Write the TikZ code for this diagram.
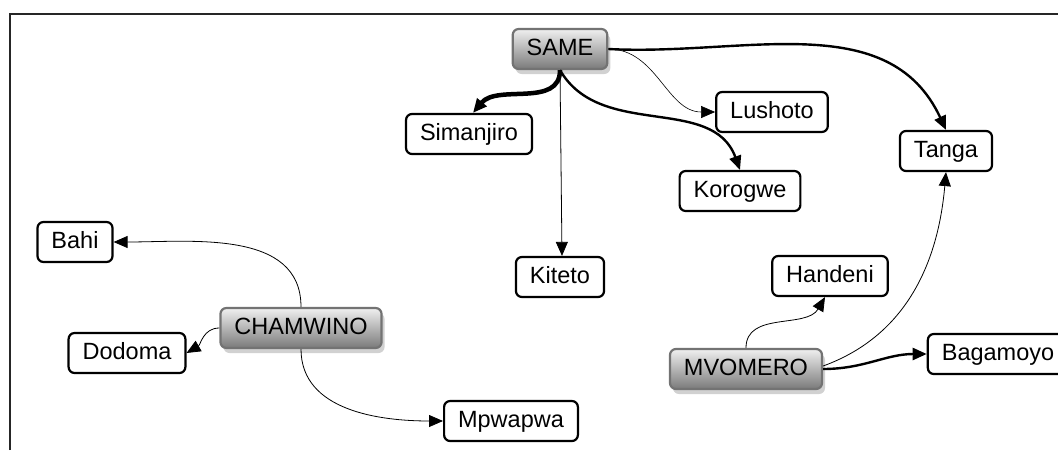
\documentclass[tikz,border=0pt]{standalone}
\usepackage{fontspec}
\setmainfont{Liberation Sans}
\usetikzlibrary{arrows.meta, shadows}

\tikzset{
  town/.style={draw, rounded corners=6pt, line width=2.2pt, fill=white,
    font=\fontsize{23.5}{28}\selectfont, inner xsep=14pt, inner ysep=0pt,
    minimum height=40pt, text height=17pt, text depth=4.5pt},
  hub/.style={town, draw=black!55, top color=black!6, bottom color=black!52,
    drop shadow={shadow xshift=3pt, shadow yshift=-5pt, fill=black!18, opacity=1}},
  route/.style={-{Triangle[length=14pt,width=12pt]}, line width=0.8pt},
  midroute/.style={route, line width=2.4pt},
  heavyroute/.style={route, line width=4.5pt},
}

\begin{document}
\begin{tikzpicture}[x=1pt, y=1pt]
\useasboundingbox (0,0) rectangle (1058,-450);
\draw[line width=2.5pt, black!85] (10,-450) -- (10,-14) -- (1058,-14);

% districts
\node[hub] (same) at (560,-49) {SAME};
\node[town] (simanjiro) at (469,-134) {Simanjiro};
\node[town] (lushoto) at (772,-112) {Lushoto};
\node[town] (tanga) at (946,-151) {Tanga};
\node[town] (korogwe) at (740,-191) {Korogwe};
\node[town] (kiteto) at (560,-277) {Kiteto};
\node[town] (bahi) at (75,-242) {Bahi};
\node[hub] (chamwino) at (301,-328) {CHAMWINO};
\node[town] (dodoma) at (127,-353) {Dodoma};
\node[town] (mpwapwa) at (511,-421) {Mpwapwa};
\node[town] (handeni) at (830,-276) {Handeni};
\node[hub] (mvomero) at (746,-369) {MVOMERO};
\node[town] (bagamoyo) at (998,-354) {Bagamoyo};

% routes
\draw[heavyroute] (same.south) to[out=-90, in=50] ([xshift=4pt]simanjiro.north);
\draw[route] (same.south) -- ([xshift=2pt]kiteto.north);
\draw[midroute] (same.south) to[out=-60, in=110] (korogwe.north);
\draw[route, line width=0.6pt] (same.east) to[out=0, in=180] (lushoto.west);
\draw[midroute] (same.east) to[out=-3, in=115] (tanga.north);

\draw[route] (chamwino.north) to[out=90, in=0] (bahi.east);
\draw[route] (chamwino.west) to[out=180, in=30] (dodoma.east);
\draw[route] (chamwino.south) to[out=-90, in=180] (mpwapwa.west);

\draw[route] (mvomero.north) to[out=90, in=-120] ([xshift=-5pt]handeni.south);
\draw[route] ([yshift=3pt]mvomero.east) to[out=20, in=-95] (tanga.south);
\draw[midroute] (mvomero.east) to[out=0, in=180] (bagamoyo.west);
\end{tikzpicture}
\end{document}
